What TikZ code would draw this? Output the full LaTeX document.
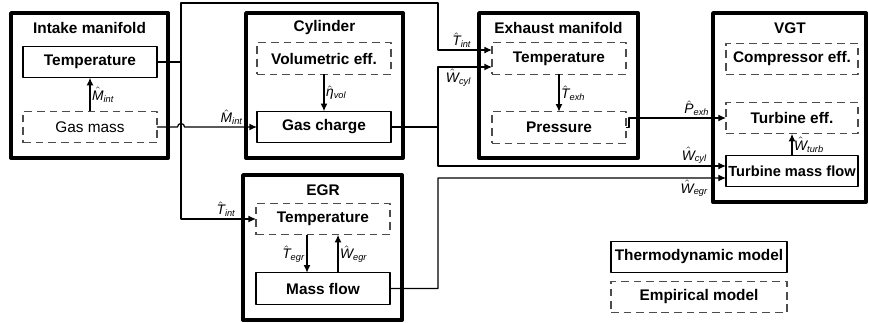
\documentclass[tikz,border=0pt]{standalone}
\usepackage{fontspec}
\setmainfont{Liberation Sans}
\usetikzlibrary{arrows.meta}
\newcommand{\hv}[2]{$\hat{\hbox{\itshape #1}}$\textsubscript{\itshape #2}}
\tikzset{
	outer/.style={draw,line width=2.6pt,inner sep=0pt,outer sep=0pt},
	thermo/.style={draw,line width=0.8pt,minimum width=87pt,minimum height=20.5pt,inner sep=1pt,outer sep=0pt,font=\bfseries},
	empir/.style={thermo,draw=black!70,dash pattern=on 5pt off 3.2pt},
	title/.style={font=\bfseries},
	lab/.style={font=\fontsize{9}{10}\selectfont,inner sep=1pt}
}
\begin{document}
\begin{tikzpicture}[x=0.65pt,y=-0.65pt,>={Latex[length=5pt,width=4.5pt]},line join=round,line width=0.8pt]
	\useasboundingbox (0,0) rectangle (869,322);
	% intake manifold
	\node[outer,minimum width=102pt,minimum height=94.2pt] (im) at (89.5,85.5) {};
	\node[title] (imt) at (89.5,28) {Intake manifold};
	\node[thermo] (imtemp) at (90,62) {Temperature};
	\node[empir,font=\mdseries] (imgas) at (90,127) {Gas mass};
	% cylinder
	\node[outer,minimum width=102pt,minimum height=94.2pt] (cyl) at (324.5,85.5) {};
	\node[title] (cylt) at (324.5,28) {Cylinder};
	\node[empir] (cylvol) at (324,58.5) {Volumetric eff.};
	\node[thermo] (cylgas) at (324,127) {Gas charge};
	% exhaust manifold
	\node[outer,minimum width=103.3pt,minimum height=94.2pt] (exh) at (558.5,85.5) {};
	\node[title] (exht) at (558.5,28) {Exhaust manifold};
	\node[empir] (exhtemp) at (559,58.5) {Temperature};
	\node[empir] (exhpres) at (559,127.5) {Pressure};
	% vgt
	\node[outer,minimum width=99.4pt,minimum height=122.8pt] (vgt) at (789.5,107.5) {};
	\node[title] (vgtt) at (790,28) {VGT};
	\node[empir,minimum width=85.8pt] (vgtcomp) at (792,59) {Compressor eff.};
	\node[empir,minimum width=85.8pt] (vgtturb) at (792,118) {Turbine eff.};
	\node[thermo,minimum width=85.8pt,font=\fontsize{9.5}{11}\selectfont\bfseries] (vgtflow) at (792,171) {Turbine mass flow};
	% egr
	\node[outer,minimum width=103.3pt,minimum height=94.2pt] (egr) at (322.5,247.5) {};
	\node[title] (egrt) at (323,190) {EGR};
	\node[empir] (egrtemp) at (323,219) {Temperature};
	\node[thermo] (egrflow) at (323,288.5) {Mass flow};
	% legend
	\node[thermo,minimum width=114.4pt] (legthermo) at (699,257) {Thermodynamic model};
	\node[empir,minimum width=114.4pt] (legemp) at (699,297) {Empirical model};
	% signals
	\coordinate (tj) at (181,62);
	\coordinate (cj) at (438,127);
	\draw[->] (imgas.north) -- (imtemp.south) node[lab,midway,right] {\hv{M}{int}};
	\draw (imtemp.east) -- (tj);
	\draw[->] (tj) |- (438,3) |- ([yshift=5.5pt]exhtemp.west) node[lab,pos=0.72,above] {\hv{T}{int}};
	\draw[->] (tj) |- (egrtemp.west) node[lab,pos=0.8,above] {\hv{T}{int}};
	\draw[->] (imgas.east) -- (177.5,127) arc[start angle=180,end angle=0,radius=2.3pt] -- (cylgas.west) node[lab,pos=0.65,above] {\hv{M}{int}};
	\draw[->] (cylvol.south) -- (cylgas.north) node[lab,midway,right] {\hv{η}{vol}};
	\draw (cylgas.east) -- (cj);
	\draw[->] (cj) |- ([yshift=-5.5pt]exhtemp.west) node[lab,pos=0.69,below] {\hv{W}{cyl}};
	\draw[->] (cj) |- ([yshift=3.25pt]vgtflow.west) node[lab,pos=0.945,above] {\hv{W}{cyl}};
	\draw[->] (exhtemp.south) -- (exhpres.north) node[lab,midway,right] {\hv{T}{exh}};
	\draw[->] (exhpres.east) -- ++(3,0) |- (vgtturb.west) node[lab,pos=0.85,above] {\hv{P}{exh}};
	\draw[->] (vgtflow.north) -- (vgtturb.south) node[lab,midway,right] {\hv{W}{turb}};
	\draw[->] (egrflow.east) -| (438,178) -- ([yshift=-4.55pt]vgtflow.west) node[lab,pos=0.89,below] {\hv{W}{egr}};
	\draw[->] ([xshift=-10.4pt]egrtemp.south) -- ([xshift=-10.4pt]egrflow.north) node[lab,midway,left] {\hv{T}{egr}};
	\draw[<-] ([xshift=9.75pt]egrtemp.south) -- ([xshift=9.75pt]egrflow.north) node[lab,midway,right] {\hv{W}{egr}};
\end{tikzpicture}
\end{document}
